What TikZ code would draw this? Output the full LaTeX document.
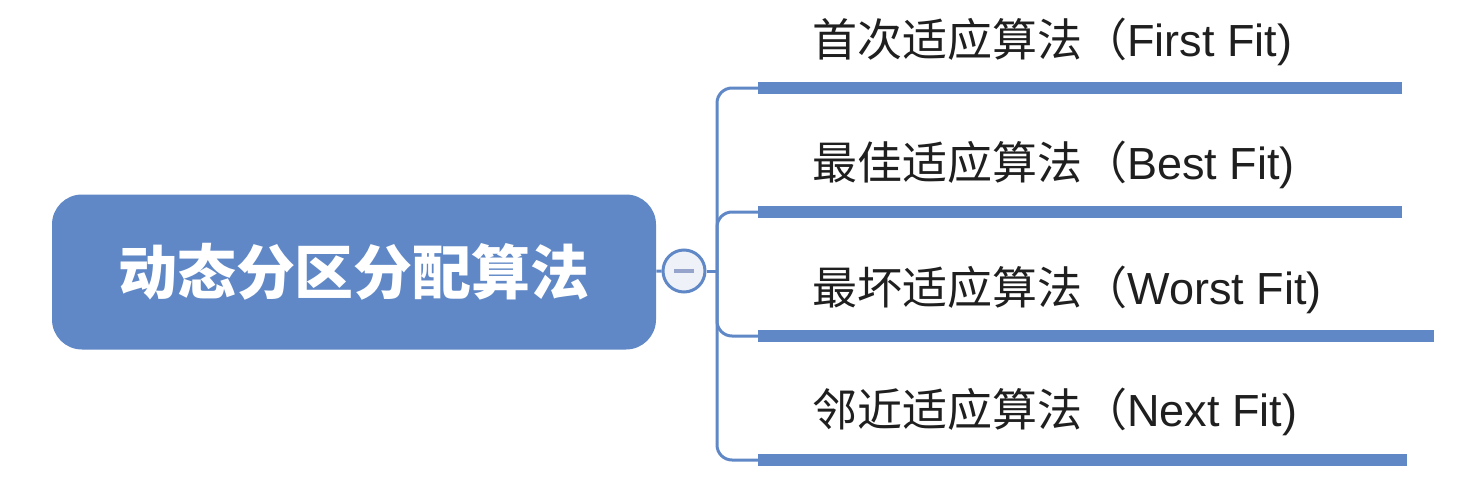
\documentclass[tikz,border=0pt]{standalone}
\usepackage{fontspec}
\setmainfont{Liberation Sans}
\newfontfamily\cjk{Noto Sans CJK SC}
\usetikzlibrary{calc}

\definecolor{mapblue}{RGB}{96,136,198}
\definecolor{togglefill}{RGB}{238,241,248}
\definecolor{minusgray}{RGB}{150,164,204}

\begin{document}
\begin{tikzpicture}[x=0.5pt,y=-0.5pt,inner sep=0pt,
  conn/.style={draw=mapblue,line width=1.5pt},
  uline/.style={draw=mapblue,line width=6pt},
  branch/.style={anchor=west,text=black!88,font=\fontsize{22.5}{26}\selectfont}]
\useasboundingbox (0,0) rectangle (1479,477);
\node[fill=mapblue,rounded corners=15pt,minimum width=302pt,minimum height=77.5pt,
  text=white,font=\cjk\bfseries\fontsize{29.5}{32}\selectfont] (root) at (354,272) {动态分区分配算法};
\node[circle,draw=mapblue,fill=togglefill,line width=1.5pt,minimum size=21pt] (toggle) at (684,271) {};
\coordinate (hub) at (717,271);

\node[branch] (b1) at (812,42) {{\cjk 首次适应算法（}First Fit)};
\node[branch] (b2) at (812,165) {{\cjk 最佳适应算法（}Best Fit)};
\node[branch] (b3) at (812,290) {{\cjk 最坏适应算法（}Worst Fit)};
\node[branch] (b4) at (812,412) {{\cjk 邻近适应算法（}Next Fit)};

\coordinate (u1) at (758,88);  \coordinate (v1) at (1402,88);
\coordinate (u2) at (758,212); \coordinate (v2) at (1402,212);
\coordinate (u3) at (758,336); \coordinate (v3) at (1434,336);
\coordinate (u4) at (758,460); \coordinate (v4) at (1407,460);

\draw[conn] (root) -- (toggle);
\draw[conn] (toggle) -- (hub);
\draw[minusgray,line width=1.6pt] ($(toggle)+(-10,0)$) -- ($(toggle)+(10,0)$);
\foreach \i in {1,...,4}{
  \draw[conn,rounded corners=7.5pt] (hub) |- (u\i);
  \draw[uline] (u\i) -- (v\i);
}
\end{tikzpicture}
\end{document}
